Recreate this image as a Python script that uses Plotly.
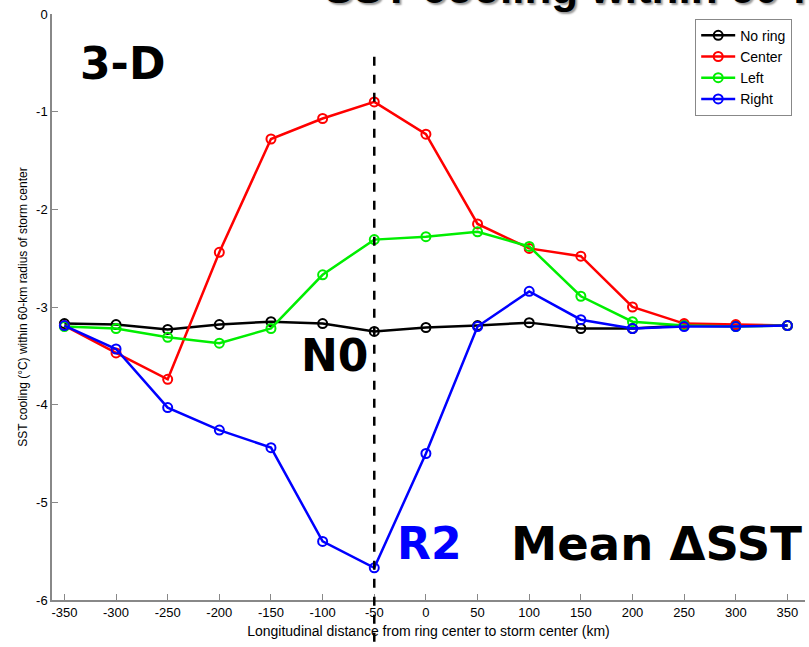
import plotly.graph_objects as go

# Longitudinal distance from ring center to storm center (km)
distance_km = [-350, -300, -250, -200, -150, -100, -50, 0, 50, 100, 150, 200, 250, 300, 350]

# Mean SST cooling (°C) within 60-km radius of storm center
no_ring = [-3.17, -3.18, -3.23, -3.18, -3.15, -3.17, -3.25, -3.21, -3.19, -3.16, -3.22, -3.22, -3.19, -3.19, -3.19]
center = [-3.19, -3.47, -3.74, -2.44, -1.28, -1.07, -0.90, -1.23, -2.15, -2.40, -2.48, -3.00, -3.17, -3.18, -3.19]
left = [-3.20, -3.22, -3.31, -3.37, -3.22, -2.67, -2.31, -2.28, -2.23, -2.38, -2.89, -3.15, -3.19, -3.20, -3.19]
right = [-3.19, -3.43, -4.03, -4.26, -4.44, -5.40, -5.67, -4.50, -3.20, -2.84, -3.13, -3.22, -3.20, -3.20, -3.19]

series = [
    ("No ring", no_ring, "#000000"),
    ("Center", center, "#ff0000"),
    ("Left", left, "#00ee00"),
    ("Right", right, "#0000ff"),
]

x_ticks = list(range(-350, 351, 50))
x_ticktext = [str(v) for v in x_ticks]
y_ticks = [-6, -5, -4, -3, -2, -1, 0]
y_ticktext = [str(v) for v in y_ticks]
x_range = [-362, 367]
y_range = [-6, 0]
marked_distance = -50

fig = go.Figure()
for name, values, color in series:
    fig.add_trace(go.Scatter(
        x=distance_km, y=values, name=name, mode="lines+markers",
        line=dict(color=color, width=2.5),
        marker=dict(symbol="circle-open", size=9, color=color, line=dict(width=2)),
    ))

# dashed marker of the ring position, running past the axis
fig.add_shape(type="line", xref="x", yref="paper",
              x0=marked_distance, x1=marked_distance, y0=0.927, y1=-0.09,
              line=dict(color="black", width=2.5, dash="dash"))

big = dict(family="DejaVu Sans", size=44, color="black", weight="bold")
fig.add_annotation(text="3-D", xref="paper", yref="paper", x=0.035, y=0.915,
                   xanchor="left", yanchor="middle", showarrow=False, font=big)
fig.add_annotation(text="N0", xref="paper", yref="paper", x=0.328, y=0.418,
                   xanchor="left", yanchor="middle", showarrow=False, font=big)
fig.add_annotation(text="R2", xref="paper", yref="paper", x=0.456, y=0.096,
                   xanchor="left", yanchor="middle", showarrow=False,
                   font=dict(family="DejaVu Sans", size=44, color="#0000ff", weight="bold"))
fig.add_annotation(text="Mean ΔSST", xref="paper", yref="paper", x=0.607, y=0.096,
                   xanchor="left", yanchor="middle", showarrow=False,
                   font=dict(family="DejaVu Sans", size=46.5, color="black", weight="bold"))

# heading that runs off the top of the page
fig.add_annotation(text="SST cooling within 60-km radius", xref="paper", yref="paper",
                   x=0.358, y=1.0, xanchor="left", yanchor="bottom", showarrow=False,
                   font=dict(family="Liberation Sans", size=44, color="black", weight="bold",
                             shadow="2px 2px 2px #999999"))

axis_common = dict(showline=True, linecolor="#888888", linewidth=1.5, ticks="inside",
                   ticklen=6, tickcolor="#888888", showgrid=False, zeroline=False,
                   tickfont=dict(family="Liberation Sans Narrow, Liberation Sans", size=13, color="black"))

fig.update_layout(
    width=809, height=647,
    margin=dict(l=52, r=4, t=14, b=47),
    plot_bgcolor="white", paper_bgcolor="white",
    xaxis=dict(range=x_range, tickvals=x_ticks, ticktext=x_ticktext, **axis_common,
               title=dict(text="Longitudinal distance from ring center to storm center (km)",
                          font=dict(family="Liberation Sans Narrow, Liberation Sans", size=14, color="black"),
                          standoff=7)),
    yaxis=dict(range=y_range, tickvals=y_ticks, ticktext=y_ticktext, **axis_common,
               title=dict(text="SST cooling (°C) within 60-km radius of storm center",
                          font=dict(family="Liberation Sans Narrow, Liberation Sans", size=12, color="black"),
                          standoff=6)),
    legend=dict(x=0.983, y=0.992, xanchor="right", yanchor="top",
                bgcolor="white", bordercolor="#888888", borderwidth=1,
                font=dict(family="Liberation Sans", size=14, color="black"),
                tracegroupgap=0, itemwidth=34),
    showlegend=True,
)

fig.write_html("out.html")
